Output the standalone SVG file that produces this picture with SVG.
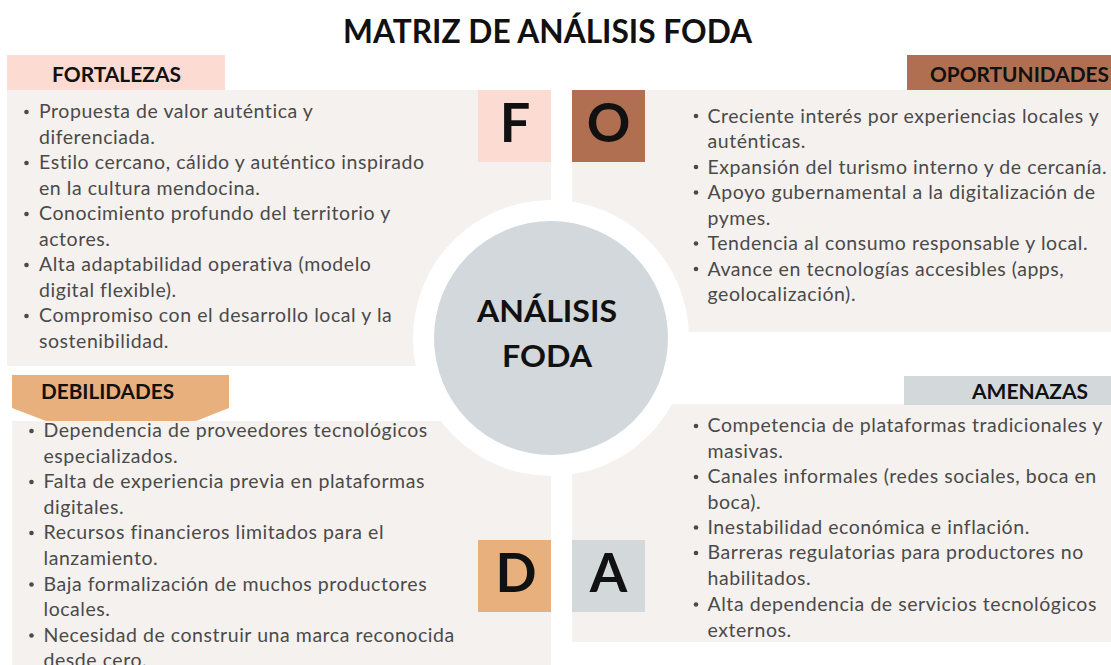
<svg xmlns="http://www.w3.org/2000/svg" width="1111" height="665" viewBox="0 0 1111 665">
<style>
.panel{fill:#f5f1ee}
.body{font-family:Lato,"Liberation Sans",sans-serif;font-size:19.5px;letter-spacing:0.55px;fill:#4a4a4a}
.hd{font-family:Lato,"Liberation Sans",sans-serif;font-size:21px;font-weight:bold;fill:#111}
.big{font-family:Lato,"Liberation Sans",sans-serif;font-size:54px;font-weight:bold;fill:#111;text-anchor:middle}
.ctr{font-family:Lato,"Liberation Sans",sans-serif;font-size:31px;font-weight:bold;fill:#111;text-anchor:middle}
.dot{fill:#4a4a4a}
</style>
<rect width="1111" height="665" fill="#ffffff"/>
<g id="panels">
<rect class="panel" x="7" y="90" width="544" height="276"/>
<rect class="panel" x="572" y="90" width="539" height="242"/>
<rect class="panel" x="12" y="421" width="539" height="244"/>
<rect class="panel" x="572" y="404" width="539" height="238"/>
</g>
<g id="center">
<circle cx="551" cy="338" r="138" fill="#ffffff"/>
<circle cx="551" cy="338" r="117" fill="#d2d8db"/>
<text class="ctr" x="547" y="322" textLength="140" lengthAdjust="spacingAndGlyphs">ANÁLISIS</text>
<text class="ctr" x="547" y="367" textLength="90" lengthAdjust="spacingAndGlyphs">FODA</text>
</g>
<g id="title">
<text x="547.5" y="43" text-anchor="middle" font-family="Lato,'Liberation Sans',sans-serif" font-size="32" font-weight="bold" fill="#111" textLength="409" lengthAdjust="spacingAndGlyphs">MATRIZ DE ANÁLISIS FODA</text>
</g>
<g id="fortalezas">
<rect x="7" y="55" width="218" height="35" fill="#fcdbd3"/>
<text class="hd" x="52" y="82" textLength="129" lengthAdjust="spacingAndGlyphs">FORTALEZAS</text>
<rect x="478" y="90" width="73" height="72" fill="#fcdbd3"/>
<text class="big" x="515" y="142">F</text>
<circle class="dot" cx="26.5" cy="112" r="2.3"/>
<circle class="dot" cx="26.5" cy="163" r="2.3"/>
<circle class="dot" cx="26.5" cy="214" r="2.3"/>
<circle class="dot" cx="26.5" cy="265" r="2.3"/>
<circle class="dot" cx="26.5" cy="316" r="2.3"/>
<text class="body" x="39" y="118">Propuesta de valor auténtica y</text>
<text class="body" x="39" y="143.5">diferenciada.</text>
<text class="body" x="39" y="169">Estilo cercano, cálido y auténtico inspirado</text>
<text class="body" x="39" y="194.5">en la cultura mendocina.</text>
<text class="body" x="39" y="220">Conocimiento profundo del territorio y</text>
<text class="body" x="39" y="245.5">actores.</text>
<text class="body" x="39" y="271">Alta adaptabilidad operativa (modelo</text>
<text class="body" x="39" y="296.5">digital flexible).</text>
<text class="body" x="39" y="322">Compromiso con el desarrollo local y la</text>
<text class="body" x="39" y="347.5">sostenibilidad.</text>
</g>
<g id="oportunidades">
<rect x="907" y="55" width="204" height="35" fill="#b06f50"/>
<text class="hd" x="930" y="82" textLength="179" lengthAdjust="spacingAndGlyphs">OPORTUNIDADES</text>
<rect x="572" y="90" width="73" height="72" fill="#b06f50"/>
<text class="big" x="608.5" y="142">O</text>
<circle class="dot" cx="696" cy="116" r="2.3"/>
<circle class="dot" cx="696" cy="167" r="2.3"/>
<circle class="dot" cx="696" cy="192.5" r="2.3"/>
<circle class="dot" cx="696" cy="243.5" r="2.3"/>
<circle class="dot" cx="696" cy="269" r="2.3"/>
<text class="body" x="707.5" y="122.5">Creciente interés por experiencias locales y</text>
<text class="body" x="707.5" y="148">auténticas.</text>
<text class="body" x="707.5" y="173.5">Expansión del turismo interno y de cercanía.</text>
<text class="body" x="707.5" y="199">Apoyo gubernamental a la digitalización de</text>
<text class="body" x="707.5" y="224.5">pymes.</text>
<text class="body" x="707.5" y="250">Tendencia al consumo responsable y local.</text>
<text class="body" x="707.5" y="275.5">Avance en tecnologías accesibles (apps,</text>
<text class="body" x="707.5" y="301">geolocalización).</text>
</g>
<g id="debilidades">
<polygon points="12,375 229,375 229,408 196,421 46,421 12,408" fill="#e8b07d"/>
<text class="hd" x="41" y="399" textLength="133" lengthAdjust="spacingAndGlyphs">DEBILIDADES</text>
<rect x="478" y="540" width="73" height="72" fill="#e8b07d"/>
<text class="big" x="516" y="592">D</text>
<circle class="dot" cx="31.5" cy="431" r="2.3"/>
<circle class="dot" cx="31.5" cy="482" r="2.3"/>
<circle class="dot" cx="31.5" cy="533" r="2.3"/>
<circle class="dot" cx="31.5" cy="584.5" r="2.3"/>
<circle class="dot" cx="31.5" cy="635.5" r="2.3"/>
<text class="body" x="43.5" y="437">Dependencia de proveedores tecnológicos</text>
<text class="body" x="43.5" y="462.5">especializados.</text>
<text class="body" x="43.5" y="488">Falta de experiencia previa en plataformas</text>
<text class="body" x="43.5" y="513.5">digitales.</text>
<text class="body" x="43.5" y="539">Recursos financieros limitados para el</text>
<text class="body" x="43.5" y="564.5">lanzamiento.</text>
<text class="body" x="43.5" y="590.5">Baja formalización de muchos productores</text>
<text class="body" x="43.5" y="616">locales.</text>
<text class="body" x="43.5" y="641.5">Necesidad de construir una marca reconocida</text>
<text class="body" x="43.5" y="667">desde cero.</text>
</g>
<g id="amenazas">
<rect x="904" y="376" width="207" height="29" fill="#d3d9db"/>
<text class="hd" x="972" y="398.5" textLength="116" lengthAdjust="spacingAndGlyphs">AMENAZAS</text>
<rect x="572" y="540" width="73" height="72" fill="#d3d9db"/>
<text class="big" x="608.5" y="592">A</text>
<circle class="dot" cx="696" cy="426" r="2.3"/>
<circle class="dot" cx="696" cy="477" r="2.3"/>
<circle class="dot" cx="696" cy="527.5" r="2.3"/>
<circle class="dot" cx="696" cy="553" r="2.3"/>
<circle class="dot" cx="696" cy="604.5" r="2.3"/>
<text class="body" x="707.5" y="432">Competencia de plataformas tradicionales y</text>
<text class="body" x="707.5" y="458">masivas.</text>
<text class="body" x="707.5" y="483">Canales informales (redes sociales, boca en</text>
<text class="body" x="707.5" y="508.5">boca).</text>
<text class="body" x="707.5" y="533.5">Inestabilidad económica e inflación.</text>
<text class="body" x="707.5" y="559">Barreras regulatorias para productores no</text>
<text class="body" x="707.5" y="585">habilitados.</text>
<text class="body" x="707.5" y="610.5">Alta dependencia de servicios tecnológicos</text>
<text class="body" x="707.5" y="636.5">externos.</text>
</g>
<g id="connectors"/>
</svg>
